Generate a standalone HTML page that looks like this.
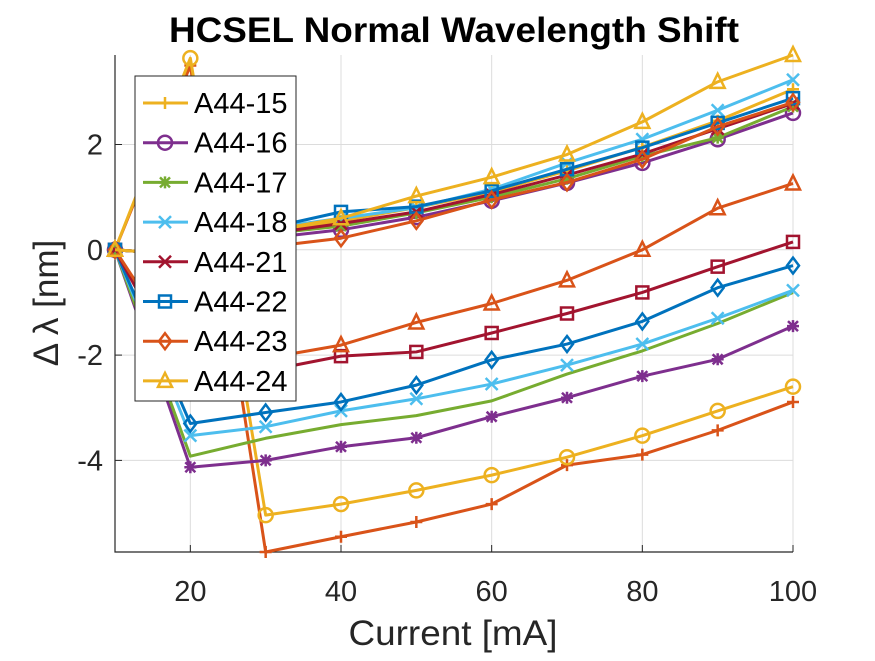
<!DOCTYPE html>
<html><head><meta charset="utf-8"><style>
body{margin:0;background:#fff}
svg text{font-family:"Liberation Sans",Arial,sans-serif}
</style></head><body>
<svg id="chart" width="875" height="656" viewBox="0 0 875 656" xmlns="http://www.w3.org/2000/svg">
<rect width="875" height="656" fill="#fff"/>
<g id="grid"></g><g id="axes"></g><g id="series"></g><g id="legend"></g>
<text x="454" y="42" text-anchor="middle" font-size="35" font-weight="bold" fill="#000" textLength="570" lengthAdjust="spacingAndGlyphs">HCSEL Normal Wavelength Shift</text>
<text x="453" y="645" text-anchor="middle" font-size="35" fill="#262626" textLength="209" lengthAdjust="spacingAndGlyphs">Current [mA]</text>
<text transform="translate(58,303) rotate(-90)" text-anchor="middle" font-size="35" fill="#262626">Δ λ [nm]</text>
</svg>
<script>
const xs = [10,20,30,40,50,60,70,80,90,100];
const names = ["A44-15","A44-16","A44-17","A44-18","A44-21","A44-22","A44-23","A44-24"];
const colors = ["#EDB120","#7E2F8E","#77AC30","#4DBEEE","#A2142F","#0072BD","#D95319","#EDB120"];
const markers = ["+","o","*","x","x","s","d","^"];
const upper = [
 [0,-0.1,0.35,0.55,0.8,1.1,1.5,1.95,2.45,3.05],
 [0,-0.1,0.22,0.38,0.62,0.93,1.27,1.65,2.1,2.6],
 [0,-0.1,0.3,0.45,0.7,1.0,1.35,1.78,2.13,2.72],
 [0,-0.1,0.4,0.6,0.8,1.15,1.65,2.1,2.65,3.23],
 [0,-0.1,0.3,0.5,0.72,1.05,1.42,1.82,2.3,2.78],
 [0,-0.1,0.4,0.72,0.82,1.12,1.53,1.94,2.41,2.88],
 [0,-0.1,0.05,0.22,0.55,0.95,1.28,1.72,2.34,2.8],
 [0,-0.1,0.35,0.6,1.02,1.38,1.81,2.43,3.19,3.7]
];
const lowerColors = ["#D95319","#EDB120","#7E2F8E","#77AC30","#4DBEEE","#0072BD","#A2142F","#D95319"];
const lowerMarkers = ["+","o","*","none","x","d","s","^"];
const lower = [
 [0,3.5,-5.74,-5.45,-5.17,-4.83,-4.09,-3.89,-3.43,-2.89],
 [0,3.64,-5.04,-4.83,-4.57,-4.28,-3.94,-3.53,-3.06,-2.6],
 [0,-4.13,-4.0,-3.74,-3.57,-3.17,-2.81,-2.4,-2.08,-1.45],
 [0,-3.92,-3.58,-3.32,-3.15,-2.87,-2.36,-1.92,-1.4,-0.81],
 [0,-3.53,-3.36,-3.06,-2.83,-2.55,-2.19,-1.79,-1.3,-0.77],
 [0,-3.3,-3.09,-2.89,-2.57,-2.09,-1.79,-1.36,-0.72,-0.3],
 [0,-2.6,-2.3,-2.02,-1.94,-1.58,-1.21,-0.81,-0.32,0.15],
 [0,-2.2,-2.06,-1.81,-1.38,-1.02,-0.58,0,0.79,1.26]
];
const xTicks = [20,40,60,80,100];
const yTicks = [-4,-2,0,2];
const X0=115,X1=793,Y0=55,Y1=552, XMIN=10,XMAX=100, YMIN=-5.74, YMAX=3.7;
function sx(v){return X0+(v-XMIN)/(XMAX-XMIN)*(X1-X0);}
function sy(v){return Y1-(v-YMIN)/(YMAX-YMIN)*(Y1-Y0);}
const NS="http://www.w3.org/2000/svg";
function mk(tag,attrs,parent){const e=document.createElementNS(NS,tag);for(const k in attrs)e.setAttribute(k,attrs[k]);parent.appendChild(e);return e;}
const grid=document.getElementById('grid'),axes=document.getElementById('axes'),ser=document.getElementById('series'),leg=document.getElementById('legend');
xTicks.forEach(t=>{
 const l=mk('line',{x1:sx(t),x2:sx(t),y1:Y0,y2:Y1,stroke:'#dcdcdc','stroke-width':1},grid);
 
 
 const tk=mk('line',{x1:sx(t),x2:sx(t),y1:Y1,y2:Y1-7,stroke:'#262626','stroke-width':1},axes);
 
 
 const tx=mk('text',{x:sx(t),y:Y1+49,'text-anchor':'middle','font-size':29,fill:'#262626'},axes);tx.textContent=t;
 
 
});
yTicks.forEach(t=>{
 const l=mk('line',{x1:X0,x2:X1,y1:sy(t),y2:sy(t),stroke:'#dcdcdc','stroke-width':1},grid);
 
 
 const tk=mk('line',{x1:X0,x2:X0+7,y1:sy(t),y2:sy(t),stroke:'#262626','stroke-width':1},axes);
 
 
 const tx=mk('text',{x:X0-12,y:sy(t)+10,'text-anchor':'end','font-size':29,fill:'#262626'},axes);tx.textContent=t;
 
 
});
const ax=mk('path',{d:`M${X0},${Y0}V${Y1}H${X1}`,fill:'none',stroke:'#262626','stroke-width':1.2},axes);


function marker(g,m,x,y,c){
 const s=6;
 if(m==='+')mk('path',{d:`M${x-s},${y}H${x+s}M${x},${y-s}V${y+s}`,stroke:c,'stroke-width':2.5,fill:'none'},g);
 else if(m==='x')mk('path',{d:`M${x-s},${y-s}L${x+s},${y+s}M${x-s},${y+s}L${x+s},${y-s}`,stroke:c,'stroke-width':2.5,fill:'none'},g);
 else if(m==='*')mk('path',{d:`M${x-s},${y}H${x+s}M${x},${y-s}V${y+s}M${x-5},${y-5}L${x+5},${y+5}M${x-5},${y+5}L${x+5},${y-5}`,stroke:c,'stroke-width':2.5,fill:'none'},g);
 else if(m==='o')mk('circle',{cx:x,cy:y,r:s+1,stroke:c,'stroke-width':2.5,fill:'none'},g);
 else if(m==='s')mk('rect',{x:x-s,y:y-s,width:2*s,height:2*s,stroke:c,'stroke-width':2.5,fill:'none'},g);
 else if(m==='d')mk('path',{d:`M${x},${y-8}L${x+6},${y}L${x},${y+8}L${x-6},${y}Z`,stroke:c,'stroke-width':2.5,fill:'none'},g);
 else if(m==='^')mk('path',{d:`M${x},${y-8}L${x+7},${y+6}L${x-7},${y+6}Z`,stroke:c,'stroke-width':2.5,fill:'none'},g);
}
function drawSeries(vals,c,m,name){
 const g=mk('g',{},ser);
 
 
 mk('polyline',{points:vals.map((v,i)=>sx(xs[i])+','+sy(v)).join(' '),fill:'none',stroke:c,'stroke-width':3,'stroke-linejoin':'round'},g);
 if(m!=='none')vals.forEach((v,i)=>marker(g,m,sx(xs[i]),sy(v),c));
}
lower.forEach((v,i)=>drawSeries(v,lowerColors[i],lowerMarkers[i],'series-lower-'+(i+1)));
upper.forEach((v,i)=>drawSeries(v,colors[i],markers[i],'series-'+names[i].toLowerCase()));
const lb=mk('rect',{x:135,y:76,width:161,height:325,fill:'#fff',stroke:'#262626','stroke-width':1},leg);


names.forEach((n,i)=>{
 const y=103+i*39.7;
 const g=mk('g',{},leg);
 
 
 mk('line',{x1:143,x2:188,y1:y,y2:y,stroke:colors[i],'stroke-width':3},g);
 marker(g,markers[i],165,y,colors[i]);
 const t=mk('text',{x:194,y:y+10,'font-size':29,fill:'#000'},g);t.textContent=n;
});
</script>
</body></html>
